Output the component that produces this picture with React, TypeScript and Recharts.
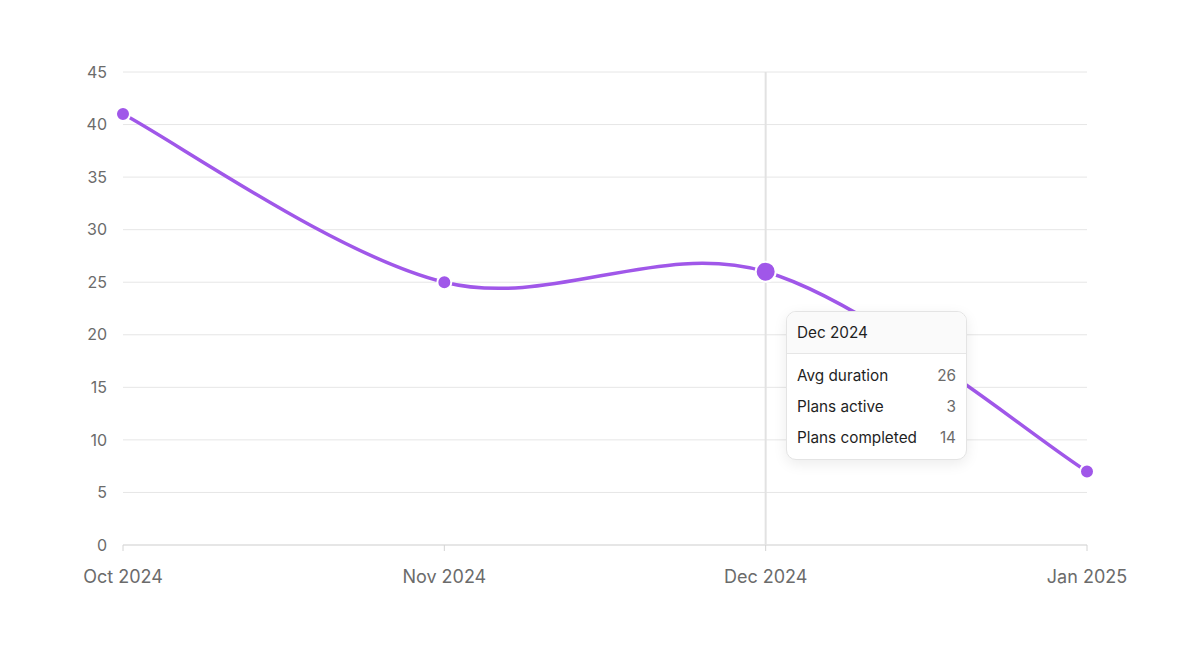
import React from 'react';
import { LineChart, Line, XAxis, YAxis, CartesianGrid, Tooltip } from 'recharts';

const months = ['Oct 2024', 'Nov 2024', 'Dec 2024', 'Jan 2025'];
const avgDuration = [41, 25, 26, 7];
const plansActive = [5, 4, 3, 2];
const plansCompleted = [9, 12, 14, 6];
const yTicks = [0, 5, 10, 15, 20, 25, 30, 35, 40, 45];

const data = months.map((m, i) => ({
  month: m,
  avg: avgDuration[i],
  active: plansActive[i],
  completed: plansCompleted[i],
}));

const PURPLE = '#a057e9';
const FONT = 'Inter, "Noto Sans", sans-serif';

// Cardinal (tension 0, uniform Catmull-Rom) curve factory with duplicated endpoints
const cardinalCurve: any = (context: any) => {
  let pts: [number, number][] = [];
  let line = NaN;
  return {
    areaStart() { line = 0; },
    areaEnd() { line = NaN; },
    lineStart() { pts = []; },
    point(x: number, y: number) { pts.push([+x, +y]); },
    lineEnd() {
      const n = pts.length;
      if (n === 0) return;
      if (line) context.lineTo(pts[0][0], pts[0][1]);
      else context.moveTo(pts[0][0], pts[0][1]);
      if (n === 1) return;
      for (let i = 0; i < n - 1; i++) {
        const p0 = pts[Math.max(i - 1, 0)];
        const p1 = pts[i];
        const p2 = pts[i + 1];
        const p3 = pts[Math.min(i + 2, n - 1)];
        const c1x = p1[0] + (p2[0] - p0[0]) / 6;
        const c1y = p1[1] + (p2[1] - p0[1]) / 6;
        const c2x = p2[0] - (p3[0] - p1[0]) / 6;
        const c2y = p2[1] - (p3[1] - p1[1]) / 6;
        context.bezierCurveTo(c1x, c1y, c2x, c2y, p2[0], p2[1]);
      }
      if (line === 0 || line === 1) context.closePath?.();
      line = 1 - line;
    },
  };
};

const TipContent = (props: any) => {
  const { active, payload, label } = props;
  if (!active || !payload || !payload.length) return null;
  const p = payload[0].payload;
  const rows = [
    ['Avg duration', p.avg],
    ['Plans active', p.active],
    ['Plans completed', p.completed],
  ];
  return (
    <div
      style={{
        width: 179,
        background: '#fff',
        border: '1px solid #e4e4e4',
        borderRadius: 10,
        boxShadow: '0 4px 14px rgba(0,0,0,0.08)',
        fontFamily: FONT,
        fontSize: 15.3,
        overflow: 'hidden',
      }}
    >
      <div
        style={{
          background: '#fafafa',
          borderBottom: '1px solid #e6e6e6',
          height: 41,
          lineHeight: '41px',
          padding: '0 10px',
          color: '#1f1f1f',
        }}
      >
        {label}
      </div>
      <div style={{ padding: '6px 10px' }}>
        {rows.map(([k, v]) => (
          <div
            key={k as string}
            style={{ display: 'flex', justifyContent: 'space-between', height: 31, lineHeight: '31px' }}
          >
            <span style={{ color: '#1f1f1f' }}>{k}</span>
            <span style={{ color: '#6b6b6b' }}>{v}</span>
          </div>
        ))}
      </div>
    </div>
  );
};

export default function App() {
  return (
    <div style={{ position: 'absolute', left: 0, top: 0, width: 1200, height: 662, background: '#fff' }}>
      <LineChart
        width={1200}
        height={662}
        data={data}
        margin={{ top: 72, right: 113, bottom: 87, left: 63 }}
      >
        <CartesianGrid vertical={false} stroke="#e6e6e6" strokeWidth={1} />
        <XAxis
          dataKey="month"
          height={30}
          tickLine={{ stroke: '#d4d4d4' }}
          axisLine={{ stroke: '#d9d9d9' }}
          tickSize={6}
          tickMargin={19}
          tick={{ fill: '#6b6b6b', fontSize: 18, fontFamily: FONT }}
          interval={0}
        />
        <YAxis
          width={60}
          domain={[0, 45]}
          ticks={yTicks}
          axisLine={false}
          tickLine={false}
          tickSize={6}
          tickMargin={10}
          tick={{ fill: '#6b6b6b', fontSize: 16, fontFamily: FONT }}
        />
        <Tooltip
          active={true}
          defaultIndex={2}
          position={{ x: 786, y: 311 }}
          cursor={{ stroke: '#e2e2e2', strokeWidth: 2 }}
          content={<TipContent />}
          isAnimationActive={false}
          wrapperStyle={{ outline: 'none' }}
        />
        <Line
          type={cardinalCurve}
          dataKey="avg"
          stroke={PURPLE}
          strokeWidth={3.5}
          dot={{ r: 7, fill: PURPLE, stroke: '#fff', strokeWidth: 2 }}
          activeDot={{ r: 10, fill: PURPLE, stroke: '#fff', strokeWidth: 2 }}
          isAnimationActive={false}
        />
      </LineChart>
    </div>
  );
}
